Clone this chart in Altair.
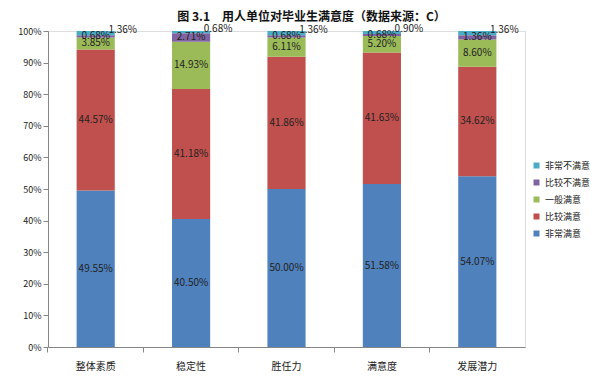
import altair as alt
import pandas as pd

categories = ["整体素质", "稳定性", "胜任力", "满意度", "发展潜力"]
series = ["非常满意", "比较满意", "一般满意", "比较不满意", "非常不满意"]
v_very_sat = [49.55, 40.50, 50.00, 51.58, 54.07]
v_sat = [44.57, 41.18, 41.86, 41.63, 34.62]
v_normal = [3.85, 14.93, 6.11, 5.20, 8.60]
v_unsat = [0.68, 2.71, 0.68, 0.68, 1.36]
v_very_unsat = [1.36, 0.68, 1.36, 0.90, 1.36]
y_ticks = [0, 10, 20, 30, 40, 50, 60, 70, 80, 90, 100]
colors = ["#4F81BD", "#C0504D", "#9BBB59", "#8064A2", "#4BACC6"]

vals = [v_very_sat, v_sat, v_normal, v_unsat, v_very_unsat]
rows = []
for si, s in enumerate(series):
    for ci, c in enumerate(categories):
        rows.append({"cat": c, "series": s, "value": vals[si][ci], "ord": si,
                     "label": f"{vals[si][ci]:.2f}%"})
df = pd.DataFrame(rows)

FONT = "Noto Sans CJK SC"

base = alt.Chart(df).transform_stack(
    stack="value", groupby=["cat"], sort=[alt.SortField("ord", order="ascending")],
    as_=["y0", "y1"]
).transform_calculate(mid="(datum.y0 + datum.y1) / 2")

xaxis = alt.Axis(labelAngle=0, labelFont=FONT, labelFontSize=10, labelColor="#222",
                 domainColor="#868686", tickColor="#868686", tickSize=5,
                 bandPosition=-0.75, labelPadding=9)
yaxis = alt.Axis(values=y_ticks, grid=False, labelExpr="datum.value + '%'",
                 labelOverlap=False, labelFont=FONT, labelFontSize=9,
                 labelColor="#222", domainColor="#868686", tickColor="#868686",
                 tickSize=5)
xscale = alt.Scale(paddingInner=0.6, paddingOuter=0.3)
yscale = alt.Scale(domain=[0, 100], nice=False)

bars = base.mark_bar().encode(
    x=alt.X("cat:N", sort=categories, title=None, scale=xscale, axis=xaxis),
    y=alt.Y("y0:Q", title=None, scale=yscale, axis=yaxis),
    y2="y1:Q",
    color=alt.Color("series:N",
                    scale=alt.Scale(domain=series[::-1], range=colors[::-1]),
                    legend=alt.Legend(title=None, orient="none", legendX=484, legendY=130,
                                      symbolType="square", symbolSize=36, labelFont=FONT,
                                      labelFontSize=9, labelColor="#222", rowPadding=7,
                                      symbolStrokeWidth=0)),
)

xt = alt.X("cat:N", sort=categories, title=None, scale=xscale, axis=xaxis)
yt = alt.Y("mid:Q", title=None, scale=yscale, axis=yaxis)

inner = base.transform_filter("datum.ord < 4").mark_text(
    font=FONT, fontSize=10, color="#222"
).encode(x=xt, y=yt, text="label:N")

top = base.transform_filter("datum.ord == 4").mark_text(
    font=FONT, fontSize=10, color="#222", dx=27, dy=-3
).encode(x=xt, y=yt, text="label:N")

chart = alt.layer(bars, inner, top).properties(
    width=477, height=316,
    padding={"left": 40, "top": 23, "right": 67, "bottom": 34},
    autosize=alt.AutoSizeParams(type="none"),
    title=alt.TitleParams("图 3.1　用人单位对毕业生满意度（数据来源：C）", font=FONT,
                          fontSize=12, fontWeight="bold", color="#111", dx=25, offset=0),
).configure_view(stroke=None).configure(background="white")

chart.save("out.html", embed_options={"renderer": "svg", "actions": False})
